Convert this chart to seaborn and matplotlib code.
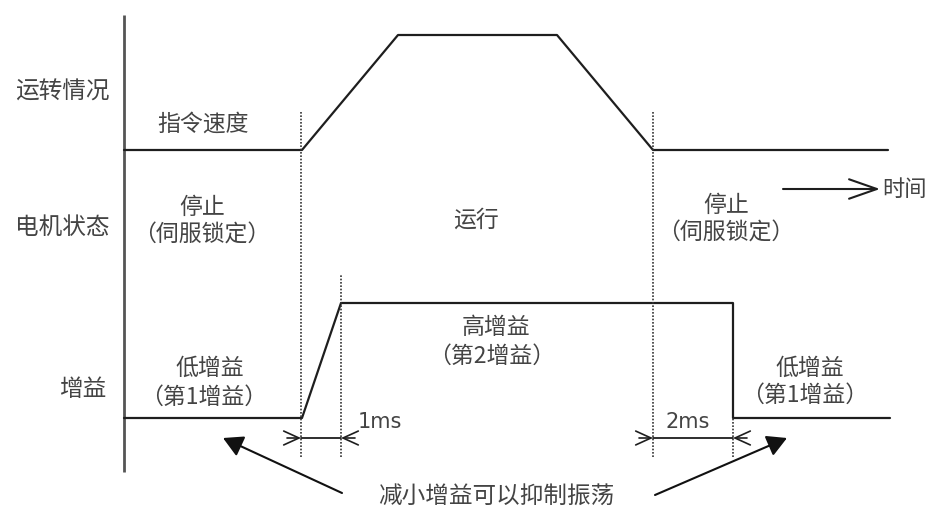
import numpy as np
import pandas as pd
import matplotlib
matplotlib.use("Agg")
import matplotlib.pyplot as plt
import seaborn as sns

# Canvas units: x = time (left to right), y = height above the bottom edge
speed_time = [124, 302, 398, 557, 653, 888]
speed_level = [357, 357, 472, 472, 357, 357]

gain_time = [124, 302, 341, 733, 733, 890]
gain_level = [89, 89, 204, 204, 89, 89]

# event markers (dotted verticals): time, top, bottom
marker_time = [301, 341, 653, 733]
marker_top = [395, 232, 395, 89]
marker_bottom = [50, 50, 50, 50]

# delay spans between markers
delay_start = [301, 653]
delay_end = [341, 733]
delay_labels = ["1ms", "2ms"]
delay_label_x = [380, 688]

row_labels = ["运转情况", "电机状态", "增益"]
row_label_x = [62, 62, 83]
row_label_y = [415, 280, 117]

phase_texts = ["指令速度", "停止", "（伺服锁定）", "运行", "停止", "（伺服锁定）",
               "高增益", "（第2增益）", "低增益", "（第1增益）", "低增益", "（第1增益）"]
phase_x = [203, 202, 202, 476, 726, 726, 496, 492, 210, 204, 810, 805]
phase_y = [383, 300, 272, 287, 302, 274, 180, 151, 139, 110, 139, 112]

note_text = "减小增益可以抑制振荡"

sns.set_theme(style="white")
plt.rcParams["font.family"] = ["Noto Sans CJK SC", "DejaVu Sans"]

line_col = "#1e1e1e"
text_col = "#444444"

fig = plt.figure(figsize=(9.34, 5.07), dpi=100)
ax = fig.add_axes([0, 0, 1, 1])
ax.set_xlim(0, 934)
ax.set_ylim(0, 507)
ax.axis("off")

# time axis (vertical bar on the left)
ax.plot([124, 124], [35, 492], color="#555555", lw=2.0, solid_capstyle="butt")

# speed and gain profiles
speed = pd.DataFrame({"t": speed_time, "v": speed_level})
gain = pd.DataFrame({"t": gain_time, "v": gain_level})
sns.lineplot(data=speed, x="t", y="v", sort=False, estimator=None,
             color=line_col, lw=1.6, ax=ax)
sns.lineplot(data=gain, x="t", y="v", sort=False, estimator=None,
             color=line_col, lw=1.6, ax=ax)
ax.set_xlabel("")
ax.set_ylabel("")

# dotted event markers
for t, top, bot in zip(marker_time, marker_top, marker_bottom):
    ax.plot([t, t], [bot, top], color="#333333", lw=1.2, ls=(0, (1.0, 1.0)))

# delay dimension arrows  >|---|<
dim_y = 69
head = "->,head_length=1.1,head_width=0.5"
for a, b, lab, lx in zip(delay_start, delay_end, delay_labels, delay_label_x):
    ax.plot([a, b], [dim_y, dim_y], color=line_col, lw=1.3)
    ax.annotate("", xy=(a, dim_y), xytext=(a - 14, dim_y),
                arrowprops=dict(arrowstyle=head, color=line_col, lw=1.2,
                                mutation_scale=10, shrinkA=0, shrinkB=0))
    ax.annotate("", xy=(b, dim_y), xytext=(b + 14, dim_y),
                arrowprops=dict(arrowstyle=head, color=line_col, lw=1.2,
                                mutation_scale=10, shrinkA=0, shrinkB=0))
    ax.text(lx, dim_y + 16, lab, ha="center", va="center", fontsize=15,
            color=text_col, family=["DejaVu Sans"])

# time arrow
ax.annotate("", xy=(880, 318), xytext=(783, 318),
            arrowprops=dict(arrowstyle="->,head_length=1.0,head_width=0.35",
                            color=line_col, lw=1.5, mutation_scale=20,
                            shrinkA=0, shrinkB=0))
ax.text(882, 318, "时间", ha="left", va="center", fontsize=16, color=text_col)

# note arrows pointing at the two low-gain windows
for tail, tip in [((342, 14), (223, 69)), ((655, 12), (787, 69))]:
    ax.annotate("", xy=tip, xytext=tail,
                arrowprops=dict(arrowstyle="-|>,head_length=1.0,head_width=0.55",
                                color="#111111", lw=1.5, mutation_scale=12,
                                shrinkA=0, shrinkB=0))
ax.text(496, 11, note_text, ha="center", va="center", fontsize=17, color=text_col)

# labels
for lab, x, y in zip(row_labels, row_label_x, row_label_y):
    ax.text(x, y, lab, ha="center", va="center", fontsize=17, color=text_col)
for lab, x, y in zip(phase_texts, phase_x, phase_y):
    ax.text(x, y, lab, ha="center", va="center", fontsize=16.5, color=text_col)

fig.savefig("out.png", dpi=100, facecolor="white")
